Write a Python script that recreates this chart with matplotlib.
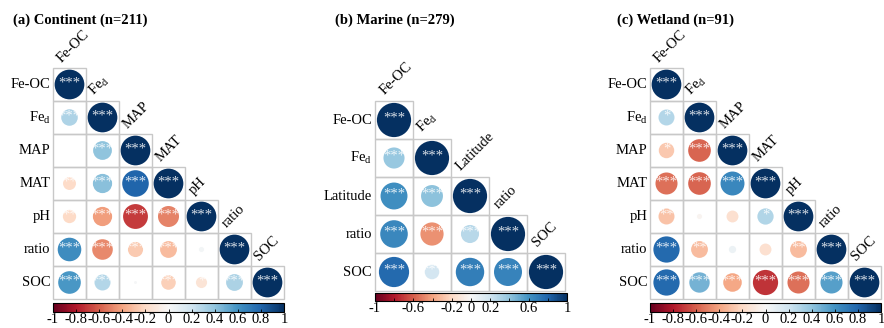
import matplotlib
matplotlib.use("Agg")
import matplotlib.pyplot as plt
import numpy as np
from matplotlib.patches import Circle, Rectangle
from matplotlib.cm import ScalarMappable
from matplotlib.colors import Normalize

plt.rcParams['font.family'] = ['Liberation Serif', 'DejaVu Serif']
plt.rcParams['mathtext.fontset'] = 'custom'
plt.rcParams['mathtext.rm'] = 'Liberation Serif'
plt.rcParams['mathtext.it'] = 'Liberation Serif:italic'

# lower-triangle correlation coefficients and significance labels
continent_vars = ['Fe-OC', 'Fe$_{\\rm d}$', 'MAP', 'MAT', 'pH', 'ratio', 'SOC']
continent_r = [
    [1],
    [0.31, 1],
    [0.0, 0.40, 1],
    [-0.19, 0.42, 0.80, 1],
    [-0.20, -0.42, -0.70, -0.50, 1],
    [0.63, -0.48, -0.26, -0.32, 0.03, 1],
    [0.58, 0.29, 0.01, -0.24, -0.14, 0.32, 1],
]
continent_sig = [
    ['***'],
    ['***', '***'],
    ['', '***', '***'],
    ['**', '***', '***', '***'],
    ['**', '***', '***', '***', '***'],
    ['***', '***', '***', '***', '', '***'],
    ['***', '***', '', '***', '*', '***', '***'],
]

marine_vars = ['Fe-OC', 'Fe$_{\\rm d}$', 'Latitude', 'ratio', 'SOC']
marine_r = [
    [1],
    [0.38, 1],
    [0.62, 0.41, 1],
    [0.65, -0.46, 0.28, 1],
    [0.78, 0.18, 0.69, 0.67, 1],
]
marine_sig = [
    ['***'],
    ['***', '***'],
    ['***', '***', '***'],
    ['***', '***', '***', '***'],
    ['***', '***', '***', '***', '***'],
]

wetland_vars = ['Fe-OC', 'Fe$_{\\rm d}$', 'MAP', 'MAT', 'pH', 'ratio', 'SOC']
wetland_r = [
    [1],
    [0.29, 1],
    [-0.27, -0.58, 1],
    [-0.55, -0.58, 0.65, 1],
    [-0.29, -0.03, -0.16, 0.30, 1],
    [0.78, -0.32, 0.06, -0.16, -0.32, 1],
    [0.78, 0.47, -0.39, -0.72, -0.55, 0.55, 1],
]
wetland_sig = [
    ['***'],
    ['*', '***'],
    ['*', '***', '***'],
    ['***', '***', '***', '***'],
    ['**', '', '', '*', '***'],
    ['***', '**', '', '', '**', '***'],
    ['***', '***', '***', '***', '***', '***', '***'],
]

W, H = 884, 328
fig = plt.figure(figsize=(W / 100, H / 100), dpi=100)
cmap = plt.get_cmap('RdBu')
norm = Normalize(-1, 1)


def px_axes(x0, y0, x1, y1):
    return fig.add_axes([x0 / W, 1 - y1 / H, (x1 - x0) / W, (y1 - y0) / H])


def corr_panel(grid, cbar, names, r, sig, ticklabels, fs=10.5):
    n = len(names)
    ax = px_axes(*grid)
    ax.set_xlim(-0.5, n - 0.5)
    ax.set_ylim(n - 0.5, -0.5)
    ax.axis('off')
    for i in range(n):
        for j in range(i + 1):
            ax.add_patch(Rectangle((j - 0.5, i - 0.5), 1, 1, fill=False,
                                   ec='#c8c8c8', lw=1.0, clip_on=False))
            v = r[i][j]
            if abs(v) > 0:
                ax.add_patch(Circle((j, i), 0.45 * np.sqrt(abs(v)),
                                    fc=cmap(norm(v)), ec='none'))
            if sig[i][j]:
                ax.text(j, i - 0.05, sig[i][j], ha='center', va='center',
                        fontsize=10.5, color='white', alpha=0.85)
        ax.text(-0.58, i, names[i], ha='right', va='center', fontsize=fs)
        ax.text(i - 0.25, i - 0.66, names[i], ha='left', va='baseline',
                rotation=45, rotation_mode='anchor', fontsize=fs)

    cax = px_axes(*cbar)
    cb = fig.colorbar(ScalarMappable(norm=norm, cmap=cmap), cax=cax,
                      orientation='horizontal')
    cb.outline.set_linewidth(0.8)
    ticks = [float(t) for t in ticklabels]
    cax.set_xticks(ticks, labels=ticklabels)
    cax.set_xticks(np.round(np.arange(-1, 1.01, 0.2), 1), minor=True)
    cax.tick_params(which='both', direction='in', length=2, width=0.6,
                    labelsize=10.5, pad=1)


full_ticks = ['-1', '-0.8', '-0.6', '-0.4', '-0.2', '0', '0.2', '0.4', '0.6', '0.8', '1']
corr_panel((53, 68, 284, 299), (53, 303, 284, 312),
           continent_vars, continent_r, continent_sig, full_ticks)
corr_panel((375, 101, 565, 291), (375, 293, 567, 301),
           marine_vars, marine_r, marine_sig,
           ['-1', '-0.6', '-0.2', '0', '0.2', '0.6', '1'])
corr_panel((650, 68, 881, 299), (650, 303, 881, 312),
           wetland_vars, wetland_r, wetland_sig, full_ticks)

fig.text(13 / W, 1 - 20 / H, '(a) Continent (n=211)', fontsize=10.5,
         fontweight='bold', va='center')
fig.text(335 / W, 1 - 20 / H, '(b) Marine (n=279)', fontsize=10.5,
         fontweight='bold', va='center')
fig.text(617 / W, 1 - 20 / H, '(c) Wetland (n=91)', fontsize=10.5,
         fontweight='bold', va='center')

fig.savefig('out.png', dpi=100)
